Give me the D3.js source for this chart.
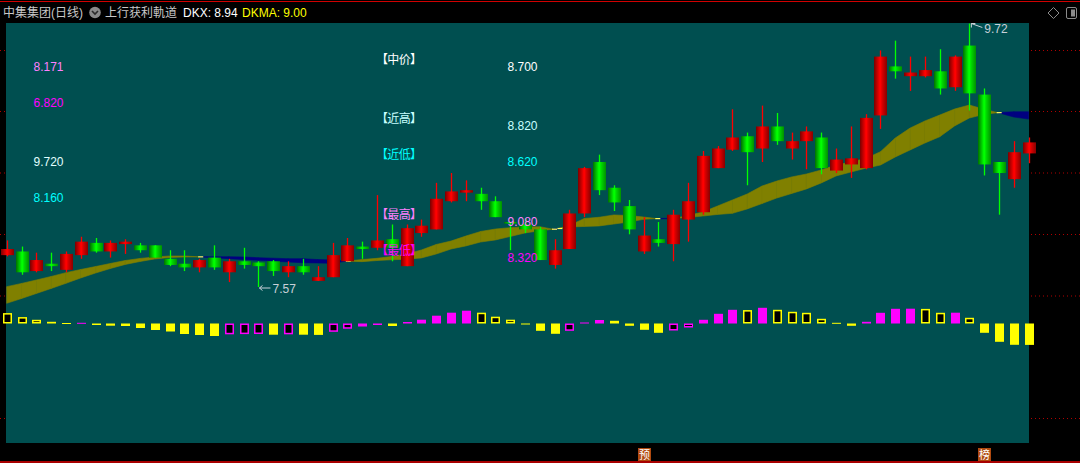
<!DOCTYPE html>
<html><head><meta charset="utf-8">
<script src="https://cdn.jsdelivr.net/npm/d3@7"></script>
<style>html,body{margin:0;padding:0;background:#000;overflow:hidden}
text{font-family:"Liberation Sans","Noto Sans CJK SC",sans-serif}</style>
</head><body><svg id="c" width="1080" height="463"></svg>
<script>
// ---------- data ----------
const opens  = [7.83,7.86,7.70,7.76,7.71,7.83,7.93,7.86,7.92,7.91, 7.91,7.80,7.76,7.73,7.81,7.69,7.78,7.77,7.78,7.69,
                7.74,7.62,7.65,7.78,7.90,7.89,7.96,7.74,8.01,8.04, 8.27,8.34,8.33,8.27,8.10,8.08,8.04,7.75,7.88,8.17,
                8.59,8.38,8.23,7.86,7.96,7.92,8.12,8.18,8.54,8.69, 8.80,8.70,8.88,8.70,8.76,8.79,8.52,8.57,8.54,8.97,
                9.37,9.29,9.29,9.33,9.20,9.54,9.14,8.59,8.45,8.66];
const highs  = [7.95,7.90,7.85,7.85,7.86,7.98,7.97,7.95,7.96,7.93, 7.91,7.87,7.87,7.80,7.91,7.80,7.89,7.78,7.79,7.78,
                7.80,7.74,7.93,7.97,7.94,8.32,8.08,8.08,8.12,8.42, 8.50,8.44,8.38,8.31,8.10,8.13,8.06,7.96,8.20,8.55,
                8.65,8.40,8.28,8.14,8.10,8.20,8.42,8.68,8.72,9.02, 8.83,9.05,8.99,8.83,8.88,8.83,8.70,8.88,8.98,9.50,
                9.58,9.45,9.45,9.51,9.46,9.72,9.19,8.59,8.76,8.79];
const lows   = [7.82,7.67,7.69,7.70,7.69,7.80,7.85,7.81,7.84,7.85, 7.81,7.74,7.70,7.69,7.71,7.61,7.72,7.57,7.66,7.65,
                7.67,7.62,7.65,7.78,7.80,7.87,7.78,7.74,7.98,8.04, 8.26,8.27,8.20,8.14,7.87,8.01,7.79,7.72,7.88,8.14,
                8.32,8.19,8.00,7.84,7.90,7.78,7.94,8.16,8.54,8.68, 8.40,8.59,8.73,8.61,8.53,8.49,8.50,8.46,8.53,8.86,
                9.27,9.17,9.28,9.14,9.17,9.01,8.48,8.16,8.38,8.58];
const closes = [7.88,7.69,7.79,7.74,7.84,7.94,7.86,7.93,7.94,7.87, 7.81,7.75,7.73,7.79,7.73,7.78,7.75,7.74,7.70,7.74,
                7.69,7.65,7.83,7.91,7.88,7.95,7.89,8.05,8.07,8.29, 8.35,8.36,8.27,8.14,8.09,8.04,7.79,7.87,8.17,8.54,
                8.36,8.26,8.04,7.99,7.93,8.16,8.27,8.64,8.70,8.79, 8.67,8.88,8.76,8.76,8.84,8.54,8.61,8.62,8.95,9.45,
                9.33,9.32,9.34,9.19,9.45,9.15,8.57,8.50,8.67,8.75];
const dkx  = [7.573,7.599,7.627,7.656,7.687,7.713,7.737,7.762,7.786,7.803, 7.815,7.823,7.823,7.816,7.809,7.801,7.794,7.788,7.781,7.774,
              7.768,7.766,7.763,7.782,7.794,7.804,7.819,7.839,7.872,7.917, 7.945,7.986,8.023,8.043,8.054,8.060,8.062,8.039,8.072,8.129,
              8.139,8.158,8.153,8.141,8.126,8.128,8.153,8.182,8.231,8.280, 8.329,8.394,8.435,8.468,8.492,8.525,8.565,8.590,8.619,8.674,
              8.786,8.867,8.925,8.973,9.022,9.055,9.020,8.990,8.957,8.940];
const dkma = [7.437,7.476,7.517,7.558,7.600,7.644,7.684,7.721,7.754,7.778, 7.799,7.811,7.815,7.816,7.817,7.817,7.815,7.809,7.805,7.801,
              7.801,7.794,7.790,7.781,7.777,7.786,7.792,7.797,7.807,7.839, 7.880,7.905,7.937,7.954,7.982,8.011,8.029,8.043,8.060,8.064,
              8.068,8.084,8.100,8.122,8.129,8.131,8.137,8.149,8.162,8.171, 8.207,8.251,8.296,8.333,8.370,8.419,8.476,8.508,8.539,8.565,
              8.631,8.688,8.745,8.796,8.884,8.949,8.979,8.994,9.000,9.000];
const hist = [0.104,0.064,0.037,0.017,0.005,0.007,-0.015,-0.022,-0.025,-0.045, -0.065,-0.080,-0.105,-0.115,-0.125,-0.108,-0.106,-0.105,-0.112,-0.108,
              -0.112,-0.114,-0.083,-0.052,-0.030,-0.015,-0.025,0.015,0.038,0.078, 0.108,0.128,0.108,0.068,0.038,-0.010,-0.073,-0.103,-0.073,0.010,
              0.035,0.027,-0.023,-0.063,-0.093,-0.070,-0.040,0.037,0.097,0.137, 0.134,0.157,0.137,0.117,0.107,0.047,0.007,-0.023,0.017,0.107,
              0.147,0.148,0.146,0.107,0.108,0.057,-0.093,-0.183,-0.213,-0.214];
const leftValues = ["8.171","6.820","9.720","8.160"];
const midNames   = ["【中价】","【近高】","【近低】","【最高】","【最低】"];
const midValues  = ["8.700","8.820","8.620","9.080","8.320"];
const stockName = "中集集团(日线)";
const indName = "上行获利軌道";
const bottomMarks = [{i:43, t:"预"}, {i:66, t:"榜"}];

// ---------- setup ----------
const N = opens.length;
const svg = d3.select("#c");
const x = d3.scaleLinear().domain([0, N-1]).range([6.7, 1028.6]);
const y = d3.scaleLinear().domain([7.57, 9.72]).range([287, 23.5]);
const yh = d3.scaleLinear().domain([-0.2, 0.2]).range([343.5, 303.5]);
const f2 = d3.format(".2f");

svg.append("rect").attr("width",1080).attr("height",463).attr("fill","#000");
// dotted grid visible outside plot
const gridY = [50.5,111.5,173,234.5,296,418.5];
const gg = svg.append("g").attr("stroke","#b00000").attr("stroke-dasharray","1,3");
gridY.forEach(v=>{
  gg.append("line").attr("x1",0).attr("x2",6).attr("y1",v).attr("y2",v);
  gg.append("line").attr("x1",1031).attr("x2",1080).attr("y1",v).attr("y2",v);
});
svg.append("rect").attr("x",6).attr("y",23).attr("width",1023).attr("height",420).attr("fill","#004f50");
svg.append("line").attr("x1",0).attr("x2",1080).attr("y1",1.5).attr("y2",1.5).attr("stroke","#d00000");
svg.append("line").attr("x1",0).attr("x2",1080).attr("y1",462).attr("y2",462).attr("stroke","#e00000").attr("stroke-width",1.5);

// gradients
const defs = svg.append("defs");
function grad(id, stops){
  const g = defs.append("linearGradient").attr("id",id).attr("x1","0").attr("x2","1").attr("y1","0").attr("y2","0");
  stops.forEach(s=>g.append("stop").attr("offset",s[0]).attr("stop-color",s[1]));
}
grad("gR",[["0%","#7a0000"],["45%","#ff0000"],["60%","#e00000"],["100%","#880000"]]);
grad("gG",[["0%","#007000"],["45%","#00ff00"],["60%","#00e000"],["100%","#009000"]]);

// ---------- DKX / DKMA band ----------
const band = svg.append("g");
const OL="#808000", NV="#000080";
const crosses=[];
for(let i=0;i<N-1;i++){
  const a0=dkx[i], b0=dkma[i], a1=dkx[i+1], b1=dkma[i+1];
  const d0=a0-b0, d1=a1-b1;
  const P = pts => band.append("polygon").attr("points",pts.map(p=>p.join(",")).join(" "));
  if ((d0>=0)===(d1>=0)) {
    const col = d0+d1>=0?OL:NV;
    P([[x(i),y(a0)],[x(i+1),y(a1)],[x(i+1),y(b1)],[x(i),y(b0)]]).attr("fill",col).attr("stroke",col).attr("stroke-width",0.6);
  } else {
    const t=d0/(d0-d1), xi=i+t, vi=a0+t*(a1-a0);
    const c0=d0>=0?OL:NV, c1=d1>=0?OL:NV;
    P([[x(i),y(a0)],[x(xi),y(vi)],[x(i),y(b0)]]).attr("fill",c0).attr("stroke",c0).attr("stroke-width",0.6);
    P([[x(xi),y(vi)],[x(i+1),y(a1)],[x(i+1),y(b1)]]).attr("fill",c1).attr("stroke",c1).attr("stroke-width",0.6);
    crosses.push({xi,vi});
  }
}
crosses.forEach(c=>{
  svg.append("line").attr("x1",x(c.xi)-1).attr("x2",x(c.xi)+4).attr("y1",y(c.vi)).attr("y2",y(c.vi))
    .attr("stroke","#ffff60").attr("stroke-width",1.2);
});

// ---------- candles ----------
const cg = svg.append("g");
const cw = 13;
d3.range(N).forEach(i=>{
  const up = closes[i]>=opens[i];
  const cx = Math.round(x(i))+0.5;
  const top = y(Math.max(opens[i],closes[i])), bot = y(Math.min(opens[i],closes[i]));
  cg.append("rect").attr("x",cx-cw/2).attr("y",top).attr("width",cw).attr("height",Math.max(1.5,bot-top))
    .attr("fill",up?"url(#gR)":"url(#gG)");
  cg.append("line").attr("x1",cx).attr("x2",cx).attr("y1",y(highs[i])).attr("y2",y(lows[i]))
    .attr("stroke",up?"#ff0000":"#00ff00").attr("stroke-width",1.3);
});

// ---------- histogram ----------
const hg = svg.append("g");
const base = yh(0);
d3.range(N).forEach(i=>{
  const v=hist[i], prev = i>0?hist[i-1]:v+1;
  const rising = v>=prev;
  const col = rising?"#ff00ff":"#ffff00";
  const hollow = (v>0 && !rising) || (v<0 && rising);
  const y1 = Math.min(yh(v),base), h = Math.max(1,Math.abs(yh(v)-base));
  const bx = Math.round(x(i))-4;
  if (hollow && h>2.5) {
    hg.append("rect").attr("x",bx+0.75).attr("y",y1+0.75).attr("width",9-1.5).attr("height",h-1.5)
      .attr("fill","#000").attr("stroke",col).attr("stroke-width",1.5);
  } else {
    hg.append("rect").attr("x",bx).attr("y",y1).attr("width",9).attr("height",h).attr("fill",col);
  }
});

// ---------- max / min markers ----------
const iMax = d3.maxIndex(highs), iMin = d3.minIndex(lows);
{
  const px = x(iMax)+1, py = y(highs[iMax]);
  svg.append("path").attr("d",`M${px+1},${py+4} L${px+1},${py} L${px+5},${py} M${px+1},${py} L${px+12},${py+4}`)
    .attr("stroke","#c8d0d8").attr("fill","none").attr("stroke-width",1);
  svg.append("text").attr("x",px+14).attr("y",py+9.5).attr("font-size",12).attr("fill","#c8d0d8").text(f2(highs[iMax]));
  const qx = x(iMin), qy = y(lows[iMin]);
  svg.append("path").attr("d",`M${qx+1},${qy+1} L${qx+12},${qy+1} M${qx+1},${qy+1} L${qx+4},${qy-1.5} M${qx+1},${qy+1} L${qx+4},${qy+3.5}`)
    .attr("stroke","#c8d0d8").attr("fill","none").attr("stroke-width",1);
  svg.append("text").attr("x",qx+14).attr("y",qy+6).attr("font-size",12).attr("fill","#c8d0d8").text(f2(lows[iMin]));
}

// ---------- labels ----------
const leftColors=["#ff80ff","#ff00ff","#e0ffff","#00ffff"];
const leftY=[71,107,166,202];
leftValues.forEach((t,k)=>svg.append("text").attr("x",33.5).attr("y",leftY[k]).attr("font-size",12).attr("fill",leftColors[k]).text(t));
const midColors=["#ffffff","#c8ffff","#00ffff","#ff80ff","#ff00ff"];
const nameY=[64,123,159,218.5,255], valY=[71,130,166,226,262];
midNames.forEach((t,k)=>svg.append("text").attr("x",376).attr("y",nameY[k]).attr("font-size",12)
  .attr("textLength",46).attr("fill",midColors[k]).text(t));
midValues.forEach((t,k)=>svg.append("text").attr("x",507.5).attr("y",valY[k]).attr("font-size",12).attr("fill",midColors[k]).text(t));

// ---------- header ----------
svg.append("text").attr("x",3).attr("y",17).attr("font-size",12).attr("fill","#c8c8c8").text(stockName);
svg.append("circle").attr("cx",95).attr("cy",12.5).attr("r",5.8).attr("fill","#8a8a8a");
svg.append("path").attr("d","M92,11 L95,14 L98,11").attr("stroke","#2a2a2a").attr("stroke-width",1.6).attr("fill","none");
svg.append("text").attr("x",105).attr("y",17).attr("font-size",12).attr("fill","#c8c8c8").text(indName);
svg.append("text").attr("x",183).attr("y",17).attr("font-size",12).attr("fill","#ffffff").text("DKX: "+f2(dkx[N-1]));
svg.append("text").attr("x",242).attr("y",17).attr("font-size",12).attr("fill","#ffff00").text("DKMA: "+f2(dkma[N-1]));
// right icons
svg.append("path").attr("d","M1053.5,7.5 L1059,13 L1053.5,18.5 L1048,13 Z").attr("stroke","#8a8a8a").attr("fill","none");
svg.append("rect").attr("x",1066.5).attr("y",7.5).attr("width",10).attr("height",11).attr("rx",1.5).attr("stroke","#8a8a8a").attr("fill","none");
svg.append("rect").attr("x",1071).attr("y",9.5).attr("width",4).attr("height",7).attr("fill","#8a8a8a");

// ---------- bottom marks ----------
bottomMarks.forEach(m=>{
  const mx = Math.round(x(m.i));
  svg.append("rect").attr("x",mx-6).attr("y",448).attr("width",13).attr("height",13).attr("fill","#b04a10");
  svg.append("text").attr("x",mx+0.5).attr("y",459).attr("text-anchor","middle").attr("font-size",11).attr("fill","#ffffff").text(m.t);
});
</script>
</body></html>
